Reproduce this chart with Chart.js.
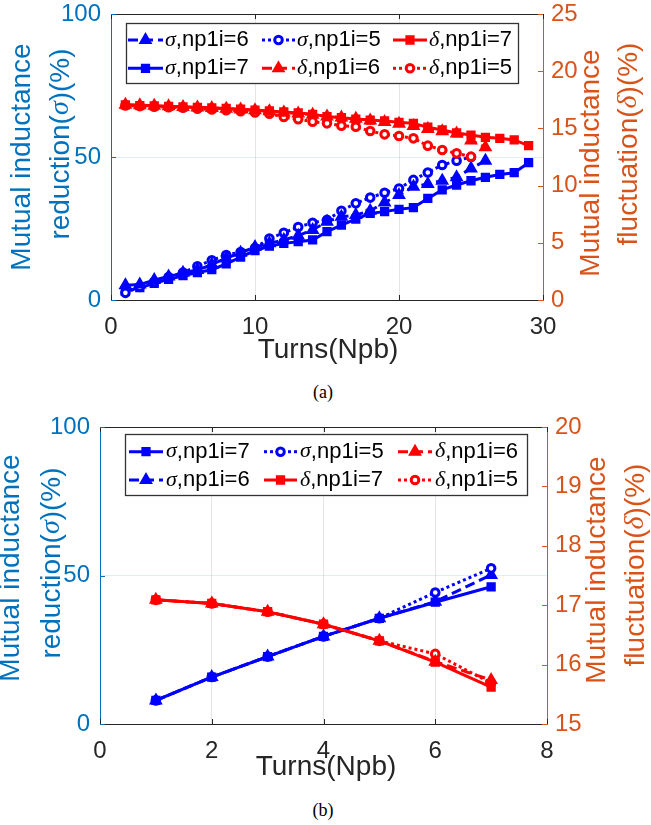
<!DOCTYPE html>
<html>
<head>
<meta charset="utf-8">
<script src="https://cdn.jsdelivr.net/npm/chart.js@4.4.0/dist/chart.umd.min.js"></script>
<style>
  body { margin: 0; background: #fff; width: 651px; height: 825px; position: relative; overflow: hidden; }
  .box { position: absolute; left: 0; width: 651px; }
  .cap { position: absolute; left: 0; width: 646px; text-align: center; font: 18px "Liberation Serif", "Times New Roman", serif; line-height: 22px; color: #000; }
</style>
</head>
<body>
<div class="box" style="top:0;height:375px"><canvas id="chartA"></canvas></div>
<div class="cap" style="top:381px">(a)</div>
<div class="box" style="top:405px;height:380px"><canvas id="chartB"></canvas></div>
<div class="cap" style="top:799px">(b)</div>
<script>
// ---- data, figure (a) ----
const turnsA = [1, 2, 3, 4, 5, 6, 7, 8, 9, 10, 11, 12, 13, 14, 15, 16, 17, 18, 19, 20, 21, 22, 23, 24, 25, 26, 27, 28, 29];
const sigma7A = [3.0, 4.3, 5.8, 7.2, 8.5, 9.6, 10.6, 12.6, 15.0, 17.3, 18.8, 19.8, 20.4, 21.0, 23.9, 26.2, 28.3, 30.3, 30.9, 31.7, 32.3, 35.5, 38.5, 40.2, 41.7, 42.9, 43.9, 44.5, 48.0];
const sigma6A = [5.2, 5.4, 7.0, 8.2, 9.5, 10.5, 12.4, 14.6, 16.5, 18.5, 19.8, 21.0, 22.5, 24.5, 27.4, 29.1, 29.7, 31.2, 34.1, 36.7, 39.6, 40.6, 41.7, 42.9, 46.0, 48.7];
const sigma5A = [2.5, 4.6, 6.3, 8.0, 9.6, 11.8, 13.9, 15.7, 16.8, 18.2, 21.5, 23.5, 25.5, 27.0, 28.0, 31.2, 33.8, 35.8, 37.5, 39.0, 42.0, 44.6, 47.2, 48.7, 50.0];
const delta7A = [17.05, 17.0, 16.96, 16.92, 16.88, 16.84, 16.8, 16.74, 16.68, 16.6, 16.52, 16.44, 16.35, 16.23, 16.03, 15.94, 15.82, 15.73, 15.65, 15.53, 15.44, 15.1, 14.86, 14.6, 14.42, 14.22, 14.13, 13.99, 13.49];
const delta6A = [17.07, 17.03, 16.98, 16.93, 16.88, 16.83, 16.78, 16.72, 16.66, 16.58, 16.5, 16.4, 16.3, 16.2, 16.05, 15.95, 15.85, 15.7, 15.55, 15.4, 15.2, 14.95, 14.75, 14.55, 13.95, 13.35];
const delta5A = [17.0, 16.95, 16.9, 16.85, 16.8, 16.72, 16.65, 16.58, 16.5, 16.4, 16.28, 16.0, 15.8, 15.59, 15.44, 15.24, 15.15, 14.77, 14.48, 14.34, 14.13, 13.49, 13.11, 12.82, 12.53];
const xTicksA = [0, 10, 20, 30];
const sigmaTicksA = [0, 50, 100];
const deltaTicksA = [0, 5, 10, 15, 20, 25];

// ---- data, figure (b) ----
const turnsB = [1, 2, 3, 4, 5, 6, 7];
const sigma7B = [7.95, 15.8, 22.7, 29.5, 35.6, 41.0, 46.2];
const sigma6B = [7.95, 15.8, 22.7, 29.5, 35.6, 41.2, 50.2];
const sigma5B = [7.95, 15.8, 22.7, 29.5, 35.6, 44.3, 52.4];
const delta7B = [17.09, 17.03, 16.89, 16.68, 16.40, 16.04, 15.62];
const delta6B = [17.09, 17.03, 16.89, 16.68, 16.40, 16.05, 15.74];
const delta5B = [17.09, 17.03, 16.89, 16.68, 16.40, 16.18, 15.69];
const xTicksB = [0, 2, 4, 6, 8];
const sigmaTicksB = [0, 50, 100];
const deltaTicksB = [15, 16, 17, 18, 19, 20];

const BLUE = '#0000ff', RED = '#ff0000';
const AX_L = '#0072BD', AX_R = '#D95319', AX_X = '#262626';
const SANS = '"Liberation Sans", Arial, Helvetica, sans-serif';
Chart.defaults.font.family = SANS;

function pts(xs, ys) {
  return ys.map((y, i) => ({ x: xs[i], y: y }));
}

// marker / line style per np1i
const kinds = {
  sq:   { pointStyle: 'rect',     pointRadius: 5.5, dash: [],      pbw: 1.5 },
  tri:  { pointStyle: 'triangle', pointRadius: 6.5, dash: [10, 5], pbw: 1.5 },
  circ: { pointStyle: 'circle',   pointRadius: 3.8, dash: [3, 3],  pbw: 3 }
};

function series(label, xs, ys, color, kind, axis) {
  const k = kinds[kind];
  return {
    label: label,
    data: pts(xs, ys),
    yAxisID: axis,
    borderColor: color,
    backgroundColor: color,
    borderWidth: 3,
    borderDash: k.dash,
    pointStyle: k.pointStyle,
    pointRadius: k.pointRadius,
    pointHoverRadius: k.pointRadius,
    pointBorderWidth: k.pbw,
    pointBorderColor: color,
    pointBackgroundColor: kind === 'circ' ? '#ffffff' : color,
    order: axis === 'y1' ? 0 : 1,
    tension: 0
  };
}

// text with italic greek letters
function drawMixed(ctx, text, x, y, size, color, align) {
  const parts = text.split(/([σδ])/).filter(s => s);
  const fontOf = s => (s === 'σ' || s === 'δ') ? 'italic ' + size + 'px "Liberation Serif", serif' : size + 'px ' + SANS;
  let w = 0;
  parts.forEach(p => { ctx.font = fontOf(p); w += ctx.measureText(p).width; });
  let cx = align === 'center' ? x - w / 2 : x;
  ctx.fillStyle = color;
  ctx.textBaseline = 'middle';
  ctx.textAlign = 'left';
  parts.forEach(p => {
    ctx.font = fontOf(p);
    ctx.fillText(p, cx, y);
    cx += ctx.measureText(p).width;
  });
}

function seg(ctx, x0, y0, x1, y1) {
  ctx.beginPath();
  ctx.moveTo(x0, y0);
  ctx.lineTo(x1, y1);
  ctx.stroke();
}

function marker(ctx, ds, x, y) {
  ctx.fillStyle = ds.pointBackgroundColor;
  ctx.strokeStyle = ds.pointBorderColor;
  ctx.lineWidth = ds.pointBorderWidth;
  ctx.setLineDash([]);
  if (Chart.helpers && Chart.helpers.drawPoint) {
    Chart.helpers.drawPoint(ctx, { pointStyle: ds.pointStyle, radius: ds.pointRadius, rotation: 0, borderWidth: ds.pointBorderWidth }, x, y);
    return;
  }
  const r = ds.pointRadius;
  ctx.beginPath();
  if (ds.pointStyle === 'rect') ctx.rect(x - r * 0.707, y - r * 0.707, r * 1.414, r * 1.414);
  else if (ds.pointStyle === 'triangle') { ctx.moveTo(x, y - r); ctx.lineTo(x + r * 0.866, y + r / 2); ctx.lineTo(x - r * 0.866, y + r / 2); ctx.closePath(); }
  else ctx.arc(x, y, r, 0, Math.PI * 2);
  ctx.fill();
  ctx.stroke();
}

// box, inward ticks, axis titles and the legend inside the axes
const decor = {
  id: 'decor',
  afterDraw(chart, args, o) {
    const ctx = chart.ctx, a = chart.chartArea;
    const sx = chart.scales.x, sy = chart.scales.y, sr = chart.scales.y1;
    ctx.save();
    ctx.lineWidth = 1;
    ctx.strokeStyle = AX_X;
    seg(ctx, a.left, Math.round(a.top) + 0.5, a.right, Math.round(a.top) + 0.5);
    sx.ticks.forEach(t => {
      const p = Math.round(sx.getPixelForValue(t.value)) + 0.5;
      seg(ctx, p, a.bottom, p, a.bottom - 5);
      seg(ctx, p, a.top, p, a.top + 5);
    });
    ctx.strokeStyle = AX_L;
    sy.ticks.forEach(t => {
      const p = Math.round(sy.getPixelForValue(t.value)) + 0.5;
      seg(ctx, a.left, p, a.left + 5, p);
    });
    ctx.strokeStyle = AX_R;
    sr.ticks.forEach(t => {
      const p = Math.round(sr.getPixelForValue(t.value)) + 0.5;
      seg(ctx, a.right, p, a.right - 5, p);
    });

    // axis titles
    const T = o.titles;
    T.left.forEach((ln, i) => {
      ctx.save();
      ctx.translate(T.leftX[i], T.leftY[i]);
      ctx.rotate(-Math.PI / 2);
      drawMixed(ctx, ln, 0, 0, 28, AX_L, 'center');
      ctx.restore();
    });
    T.right.forEach((ln, i) => {
      ctx.save();
      ctx.translate(T.rightX[i], T.rightY[i]);
      ctx.rotate(-Math.PI / 2);
      drawMixed(ctx, ln, 0, 0, 28, AX_R, 'center');
      ctx.restore();
    });
    drawMixed(ctx, T.x, T.xPos[0], T.xPos[1], 28, AX_X, 'center');

    // legend
    const L = o.legend;
    const bw = L.box[2] - L.box[0], bh = L.box[3] - L.box[1];
    ctx.fillStyle = '#fff';
    ctx.fillRect(L.box[0], L.box[1], bw, bh);
    ctx.strokeStyle = '#333';
    ctx.lineWidth = 1.3;
    ctx.strokeRect(L.box[0] + 0.5, L.box[1] + 0.5, bw, bh);
    chart.data.datasets.forEach((ds, k) => {
      const row = Math.floor(k / 3), col = k % 3;
      const y = L.rows[row];
      const c = L.cols[col];
      ctx.strokeStyle = ds.borderColor;
      ctx.lineWidth = ds.borderWidth;
      ctx.setLineDash(ds.borderDash);
      seg(ctx, c[0], y, c[1], y);
      ctx.setLineDash([]);
      marker(ctx, ds, (c[0] + c[1]) / 2, y);
      drawMixed(ctx, ds.label, c[2], y, 22, '#000', 'left');
    });
    ctx.restore();
  }
};

function makeChart(id, datasets, cfg) {
  // fixed axis sizes, no extra room for edge labels
  const fixed = (v) => (s) => {
    if (s.isHorizontal()) s.height = v; else s.width = v;
    s.paddingTop = 0; s.paddingBottom = 0; s.paddingLeft = 0; s.paddingRight = 0;
  };
  const setTicks = (arr) => (s) => { s.ticks = arr.map(v => ({ value: v })); };
  return new Chart(document.getElementById(id), {
    type: 'line',
    data: { datasets: datasets },
    options: {
      responsive: true,
      maintainAspectRatio: false,
      animation: false,
      layout: { padding: { top: cfg.top, left: 0, right: 0, bottom: 0 } },
      plugins: {
        legend: { display: false },
        tooltip: { enabled: false },
        decor: { titles: cfg.titles, legend: cfg.legend }
      },
      scales: {
        x: {
          type: 'linear', min: cfg.xTicks[0], max: cfg.xTicks[cfg.xTicks.length - 1],
          afterBuildTicks: setTicks(cfg.xTicks),
          afterFit: fixed(cfg.xH),
          ticks: { color: AX_X, font: { size: 24 }, padding: 13, maxRotation: 0 },
          grid: { color: 'rgba(38,38,38,0.12)', drawTicks: false },
          border: { color: AX_X, width: 1 }
        },
        y: {
          position: 'left', min: cfg.sTicks[0], max: cfg.sTicks[cfg.sTicks.length - 1],
          afterBuildTicks: setTicks(cfg.sTicks),
          afterFit: fixed(cfg.yW),
          ticks: { color: AX_L, font: { size: 24 }, padding: 10 },
          grid: { color: 'rgba(0,114,189,0.12)', drawTicks: false },
          border: { color: AX_L, width: 1 }
        },
        y1: {
          position: 'right', min: cfg.dTicks[0], max: cfg.dTicks[cfg.dTicks.length - 1],
          afterBuildTicks: setTicks(cfg.dTicks),
          afterFit: fixed(cfg.y1W),
          ticks: { color: AX_R, font: { size: 24 }, padding: 8 },
          grid: { drawOnChartArea: false, drawTicks: false },
          border: { color: AX_R, width: 1 }
        }
      }
    },
    plugins: [decor]
  });
}

// (a) legend order: σ6, σ5, δ7 / σ7, δ6, δ5
makeChart('chartA', [
  series('σ,np1i=6', turnsA, sigma6A, BLUE, 'tri', 'y'),
  series('σ,np1i=5', turnsA, sigma5A, BLUE, 'circ', 'y'),
  series('δ,np1i=7', turnsA, delta7A, RED, 'sq', 'y1'),
  series('σ,np1i=7', turnsA, sigma7A, BLUE, 'sq', 'y'),
  series('δ,np1i=6', turnsA, delta6A, RED, 'tri', 'y1'),
  series('δ,np1i=5', turnsA, delta5A, RED, 'circ', 'y1')
], {
  top: 14, xH: 75, yW: 111, y1W: 108,
  xTicks: xTicksA, sTicks: sigmaTicksA, dTicks: deltaTicksA,
  titles: {
    left: ['Mutual inductance', 'reduction(σ)(%)'], leftX: [22, 61], leftY: [157, 144],
    right: ['Mutual inductance', 'fluctuation(δ)(%)'], rightX: [591, 629], rightY: [163, 144],
    x: 'Turns(Npb)', xPos: [328, 350]
  },
  legend: { box: [126, 23, 518, 83], rows: [40, 68.3], cols: [[128, 163, 165], [262, 295, 297], [393, 427, 429]] }
});

// (b) legend order: σ7, σ5, δ6 / σ6, δ7, δ5
makeChart('chartB', [
  series('σ,np1i=7', turnsB, sigma7B, BLUE, 'sq', 'y'),
  series('σ,np1i=5', turnsB, sigma5B, BLUE, 'circ', 'y'),
  series('δ,np1i=6', turnsB, delta6B, RED, 'tri', 'y1'),
  series('σ,np1i=6', turnsB, sigma6B, BLUE, 'tri', 'y'),
  series('δ,np1i=7', turnsB, delta7B, RED, 'sq', 'y1'),
  series('δ,np1i=5', turnsB, delta5B, RED, 'circ', 'y1')
], {
  top: 22, xH: 61, yW: 100, y1W: 104,
  xTicks: xTicksB, sTicks: sigmaTicksB, dTicks: deltaTicksB,
  titles: {
    left: ['Mutual inductance', 'reduction(σ)(%)'], leftX: [11, 52], leftY: [163, 158],
    right: ['Mutual inductance', 'fluctuation(δ)(%)'], rightX: [597, 636], rightY: [165, 160],
    x: 'Turns(Npb)', xPos: [326, 362]
  },
  legend: { box: [125, 29, 527, 90], rows: [46.7, 75], cols: [[129, 163, 166], [264, 297, 300], [398, 432, 435]] }
});
</script>
</body>
</html>
